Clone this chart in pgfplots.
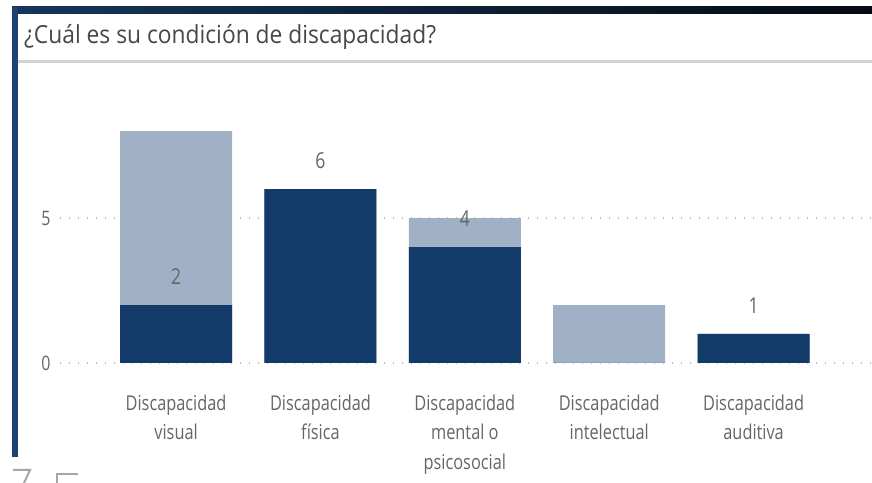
\documentclass[border=0pt]{standalone}
\usepackage{pgfplots}
\pgfplotsset{compat=1.18}
\usepackage{fontspec}
\setmainfont{Open Sans}[FakeStretch=0.8]
\newfontfamily\titlefont{Open Sans}[FakeStretch=0.915]
\definecolor{darkbar}{HTML}{123B6A}
\definecolor{lightbar}{HTML}{A0B1C6}
\definecolor{framec}{HTML}{1B4470}
\definecolor{txt}{HTML}{666666}
\begin{document}
\begin{tikzpicture}
\path[use as bounding box] (0,0) rectangle (872bp,483bp);
\fill[white] (0,0) rectangle (872bp,483bp);
\shade[left color=framec!80!black, right color=black!85!framec] (12bp,469bp) rectangle (872bp,476bp);
\fill[framec] (12bp,26bp) rectangle (18bp,476bp);
\fill[gray!35] (18bp,420bp) rectangle (872bp,423bp);
\node[anchor=base west, inner sep=0pt, font=\titlefont\fontsize{25}{30}\selectfont, text=black!72] at (24bp,439bp) {¿Cuál es su condición de discapacidad?};
\draw[gray!70, line width=2bp] (13bp,13bp) -- (30bp,13bp) -- (24bp,0bp);
\draw[gray!70, line width=2bp] (57bp,0bp) -- (57bp,9bp) -- (78bp,9bp);
\begin{axis}[
  at={(60bp,120bp)}, anchor=south west, scale only axis,
  width=812bp, height=232bp,
  xmin=-0.804, xmax=4.82, ymin=0, ymax=8,
  enlargelimits=false, clip=false,
  axis line style={draw=none},
  tick style={draw=none},
  major tick length=0pt,
  xtick={0,1,2,3,4},
  xticklabels={{Discapacidad\\visual},{Discapacidad\\física},{Discapacidad\\mental o\\psicosocial},{Discapacidad\\intelectual},{Discapacidad\\auditiva}},
  ytick={0,5},
  ymajorgrids,
  grid style={gray!55, line width=1.3bp, dash pattern=on 1.3bp off 7.7bp},
  ybar, bar width=112bp,
  yticklabel style={font=\fontsize{20}{24}\selectfont, text=txt, xshift=-6bp},
  xticklabel style={align=center, font=\fontsize{20.5}{30}\selectfont, text=txt, yshift=-28bp},
  /pgf/number format/assume math mode=true,
]
\addplot[fill=lightbar, draw=none, bar shift=0pt] coordinates {(0,8) (1,6) (2,5) (3,2) (4,1)};
\addplot[fill=darkbar, draw=none, bar shift=0pt, point meta=explicit symbolic,
  nodes near coords,
  nodes near coords style={font=\fontsize{22}{26}\selectfont, text=txt, anchor=south, yshift=17bp}]
  coordinates {(0,2)[2] (1,6)[6] (2,4)[4] (3,0)[{}] (4,1)[1]};
\end{axis}
\end{tikzpicture}
\end{document}
